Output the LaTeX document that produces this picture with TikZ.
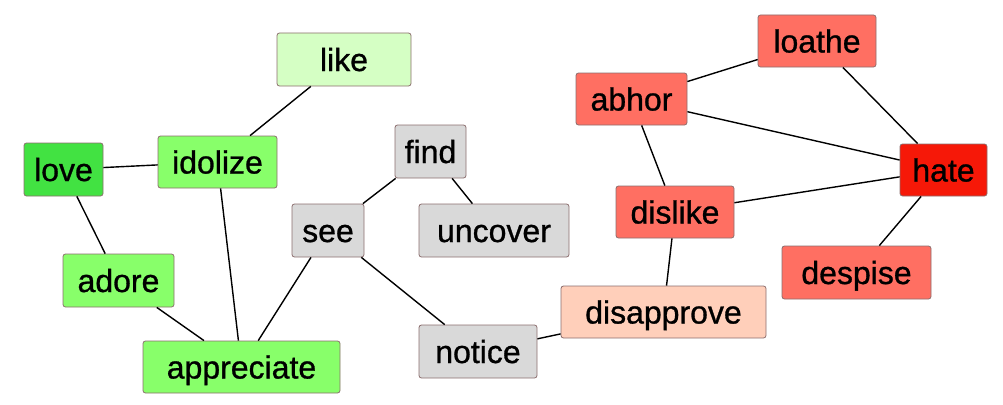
\documentclass[tikz,border=0pt]{standalone}
\usepackage{fontspec}
\setmainfont{Liberation Sans}
\newfontface\boxfont{Liberation Sans}[FakeBold=0.9]
\definecolor{lovec}{RGB}{66,226,66}
\definecolor{greenc}{RGB}{136,255,106}
\definecolor{likec}{RGB}{213,255,196}
\definecolor{grayc}{RGB}{217,217,217}
\definecolor{redc}{RGB}{255,111,98}
\definecolor{hatec}{RGB}{246,24,8}
\definecolor{disc}{RGB}{255,207,186}
\definecolor{borderc}{RGB}{140,110,110}
\begin{document}
\begin{tikzpicture}[x=1pt,y=-1pt,
  wbox/.style={draw=borderc, line width=0.8pt, rounded corners=2.5pt, inner sep=0pt,
    text height=23pt, text depth=0pt, font=\boxfont\fontsize{32}{36}\selectfont},
  link/.style={line width=1.4pt, black}]
\useasboundingbox (0,0) rectangle (1003,404);
% nodes
\node[wbox, fill=likec, minimum width=134pt, minimum height=53pt] (like) at (344,59.5) {like};
\node[wbox, fill=lovec, minimum width=79pt, minimum height=53pt] (love) at (63.5,169.5) {love};
\node[wbox, fill=greenc, minimum width=119pt, minimum height=52pt] (idolize) at (217.5,162) {idolize};
\node[wbox, fill=greenc, minimum width=111pt, minimum height=53pt] (adore) at (118.5,280.5) {adore};
\node[wbox, fill=greenc, minimum width=197pt, minimum height=52pt] (appreciate) at (241.5,367) {appreciate};
\node[wbox, fill=grayc, minimum width=72pt, minimum height=53pt] (see) at (328,230.5) {see};
\node[wbox, fill=grayc, minimum width=71pt, minimum height=53pt] (find) at (430.5,151.5) {find};
\node[wbox, fill=grayc, minimum width=150pt, minimum height=53pt] (uncover) at (494,230.5) {uncover};
\node[wbox, fill=grayc, minimum width=118pt, minimum height=53pt] (notice) at (478,351.5) {notice};
\node[wbox, fill=redc, minimum width=118pt, minimum height=52pt] (loathe) at (817,41) {loathe};
\node[wbox, fill=redc, minimum width=111pt, minimum height=52pt] (abhor) at (631.5,99) {abhor};
\node[wbox, fill=hatec, minimum width=87pt, minimum height=52pt] (hate) at (943.5,170) {hate};
\node[wbox, fill=redc, minimum width=118pt, minimum height=52pt] (dislike) at (675,212) {dislike};
\node[wbox, fill=redc, minimum width=149pt, minimum height=53pt] (despise) at (856.5,272.5) {despise};
\node[wbox, fill=disc, minimum width=205pt, minimum height=52pt] (disapprove) at (663.5,312) {disapprove};
% links
\draw[link] (love) -- (idolize);
\draw[link] (love) -- (adore);
\draw[link] (idolize) -- (like);
\draw[link] (idolize) -- (appreciate);
\draw[link] (adore) -- (appreciate);
\draw[link] (see) -- (appreciate);
\draw[link] (see) -- (find);
\draw[link] (see) -- (notice);
\draw[link] (find) -- (uncover);
\draw[link] (notice) -- (disapprove);
\draw[link] (disapprove) -- (dislike);
\draw[link] (dislike) -- (abhor);
\draw[link] (dislike) -- (hate);
\draw[link] (abhor) -- (loathe);
\draw[link] (abhor) -- (hate);
\draw[link] (loathe) -- (hate);
\draw[link] (hate) -- (despise);
\end{tikzpicture}
\end{document}
